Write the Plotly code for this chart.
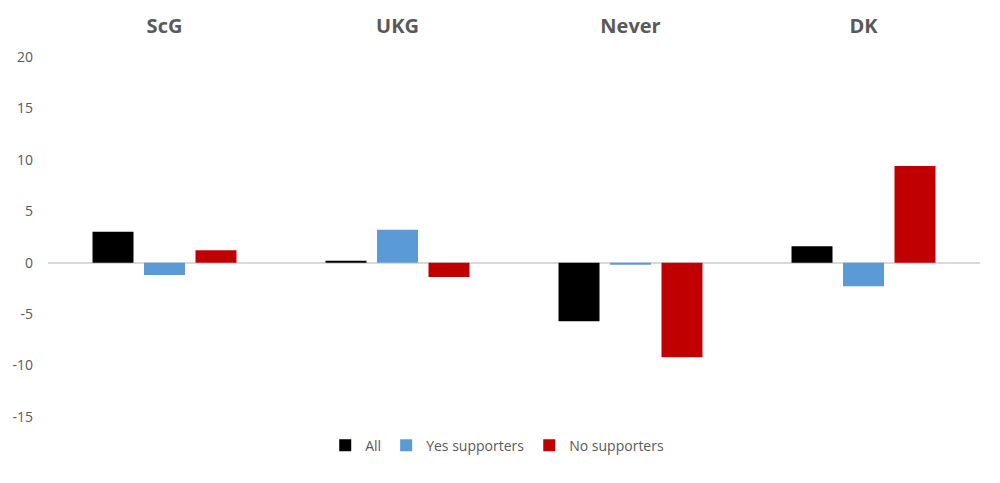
import plotly.graph_objects as go

categories = ["ScG", "UKG", "Never", "DK"]
series_names = ["All", "Yes supporters", "No supporters"]
all_vals = [3.0, 0.2, -5.7, 1.6]
yes_vals = [-1.2, 3.2, -0.2, -2.3]
no_vals = [1.2, -1.4, -9.2, 9.4]
colors = ["#000000", "#5B9BD5", "#C00000"]
y_ticks = [-15, -10, -5, 0, 5, 10, 15, 20]
y_tick_labels = ["-15", "-10", "-5", "0", "5", "10", "15", "20"]

fig = go.Figure()
for name, vals, col in zip(series_names, [all_vals, yes_vals, no_vals], colors):
    fig.add_trace(go.Bar(x=categories, y=vals, name=name, marker=dict(color=col, line=dict(width=0))))

fig.update_layout(
    width=1000, height=483,
    paper_bgcolor="white", plot_bgcolor="white",
    font=dict(family="Open Sans", color="#595959"),
    barmode="group", bargap=0.337, bargroupgap=0.204,
    margin=dict(l=40, r=28, t=49, b=74),
    legend=dict(orientation="h", x=0.482, xanchor="center", y=-0.035, yanchor="top",
                font=dict(size=14, color="#595959"), itemwidth=30, traceorder="normal"),
    xaxis=dict(side="top", showline=False, showgrid=False, zeroline=False, ticks="",
               automargin=False,
               tickfont=dict(size=20, color="#595959", family="Open Sans", weight="bold"),
               ticklabelstandoff=19),
    yaxis=dict(range=[-15, 20], tickvals=y_ticks, ticktext=y_tick_labels,
               showgrid=False, showline=False, automargin=False,
               zeroline=True, zerolinecolor="#D9D9D9", zerolinewidth=1.5,
               tickfont=dict(size=14, color="#595959"), ticks="", ticklabelstandoff=14),
)
fig.write_html("out.html")
